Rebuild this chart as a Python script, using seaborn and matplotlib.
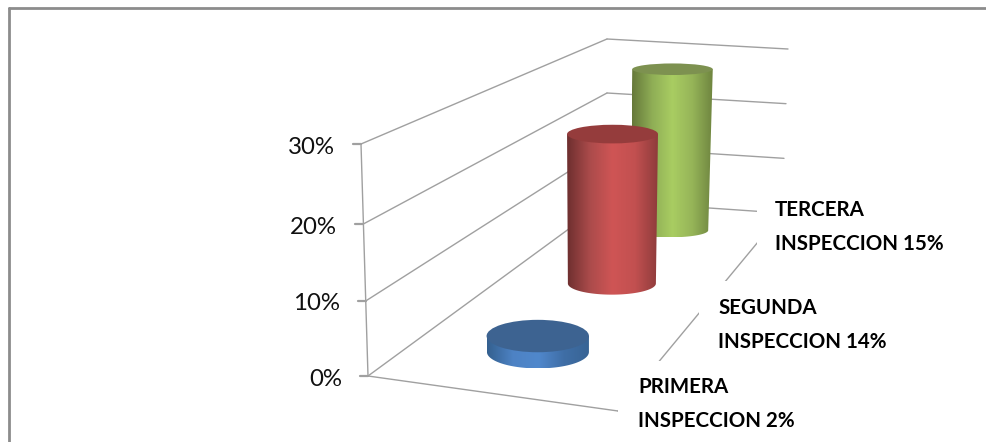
import numpy as np
import matplotlib
matplotlib.use("Agg")
import matplotlib.pyplot as plt
from matplotlib.patches import Polygon, Ellipse, Rectangle
import seaborn as sns

# ---- data ----
series_names = ["PRIMERA\nINSPECCION 2%", "SEGUNDA\nINSPECCION 14%", "TERCERA\nINSPECCION 15%"]
plotted_values = [2.2, 23.5, 28.3]      # heights as drawn, in % on the value axis
tick_values = [0, 10, 20, 30]
tick_labels = ["0%", "10%", "20%", "30%"]
depths = [0.223, 0.59, 0.875]           # series position along the depth axis
side_colors = [["#34608f", "#4d82c4", "#5088cc", "#3f6ea6", "#386494"],
               ["#6e2f2f", "#ab4b4b", "#cf5555", "#c25050", "#8f3c3c"],
               ["#66793a", "#8fae56", "#a9cd62", "#95b458", "#6f8540"]]
top_colors = ["#3d6391", "#953c3c", "#7d9150"]

# ---- layout: projection of the 3-D box onto the page, in pixels ----
W, H = 987, 442
FRONT_Y = [376., 301., 224., 144.]      # slight perspective on the front value axis
FL0, FL30 = np.array([368., 376.]), np.array([361., 144.])
BL0, BL30 = np.array([607., 201.]), np.array([607., 39.])
BR0, BR30 = np.array([782., 213.]), np.array([788., 49.])
FR0 = np.array([618., 411.])


def front_axis(v):
    return np.array([FL0[0] + (FL30[0] - FL0[0]) * v / 30, np.interp(v, tick_values, FRONT_Y)])


def wall_back(v):
    return BL0 + (BL30 - BL0) * v / 30, BR0 + (BR30 - BR0) * v / 30


def base_center(d):
    front, back = (FL0 + FR0) / 2, (BL0 + BR0) / 2
    return front + (back - front) * d


def px_per_pct(d):
    return (1 - d) * (FL0[1] - FL30[1]) / 30 + d * (BL0[1] - BL30[1]) / 30


sns.set_theme(style="white")
plt.rcParams["font.family"] = ["Lato", "DejaVu Sans"]
fig = plt.figure(figsize=(W / 100, H / 100), dpi=100)
ax = fig.add_axes([0, 0, 1, 1])
ax.set_axis_off()

GRID = "#a0a0a0"


def seg(p, q, **kw):
    sns.lineplot(x=[p[0], q[0]], y=[p[1], q[1]], ax=ax, color=kw.pop("color", GRID),
                 lw=kw.pop("lw", 1.0), sort=False, estimator=None, errorbar=None, legend=False, **kw)


# gridlines on left and back walls, value axis and ticks
for v in tick_values:
    p = front_axis(v)
    a, b = wall_back(v)
    seg(p, a, zorder=1)
    seg(a, b, zorder=1)
    seg(p - np.array([8, 0]), p, zorder=1, lw=1.6)
seg(front_axis(0), front_axis(30), zorder=1)
seg(FL0, FR0, zorder=1)
seg(FR0, BR0, zorder=1)

# white label boxes hide the floor edge, as in the original
for x0, y0, x1, y1 in [(618, 361, 830, 440), (699, 281, 900, 361), (757, 190, 960, 281)]:
    ax.add_patch(Rectangle((x0, y0), x1 - x0, y1 - y0, fc="white", ec="none", zorder=2))


def cylinder(d, value, cols, top, z):
    c = base_center(d)
    h = value * px_per_pct(d)
    rx_b = 44 + (0.59 - d) * 18 if d > 0.3 else 51
    ry_b = 16.5 - (d - 0.223) * 14.5
    rx_t = rx_b * (1 + h / 4500)
    ry_t = ry_b * (1 - h / 900)
    cx_t, cy_t = c[0] + value * (d - 0.5) * 0.3, c[1] - h
    t = np.linspace(0, np.pi, 80)
    lower = np.c_[c[0] + rx_b * np.cos(t), c[1] + ry_b * np.sin(t)]
    poly = np.vstack([[[cx_t + rx_t, cy_t]], lower, [[cx_t - rx_t, cy_t]]])
    clip = Polygon(poly, closed=True, transform=ax.transData, fc="none", ec="none")
    ax.add_patch(clip)
    ramp = np.array(sns.blend_palette(cols, 200))[None, :, :]
    im = ax.imshow(ramp, extent=(cx_t - rx_t, cx_t + rx_t, c[1] + ry_b, cy_t - 1),
                   aspect="auto", zorder=z, interpolation="bilinear")
    im.set_clip_path(clip)
    ax.add_patch(Ellipse((cx_t, cy_t), 2 * rx_t, 2 * ry_t, fc=top, ec="none", zorder=z + 0.1))


order = np.argsort(depths)[::-1]
for i, idx in enumerate(order):
    cylinder(depths[idx], plotted_values[idx], side_colors[idx], top_colors[idx], 3 + i)

# value tick labels
for v, lab in zip(tick_values, tick_labels):
    p = front_axis(v)
    ax.text(p[0] - 26, p[1] + 3, lab, ha="right", va="center", fontsize=17.3, color="#101010", zorder=8)

# series labels
label_xy = [(638, 387), (718, 308), (775, 210)]
for (x, y), name in zip(label_xy, series_names):
    l1, l2 = name.split("\n")
    ax.text(x, y, l1, ha="left", va="center", fontsize=14.8, fontweight="bold", color="black", zorder=8)
    ax.text(x, y + 34, l2, ha="left", va="center", fontsize=14.8, fontweight="bold", color="black", zorder=8)

# outer frame (top and left only reach the picture)
FRAME = "#8c8c8c"
seg((9, 8), (W, 8), color=FRAME, lw=2.0, zorder=9)
seg((9, 8), (9, H), color=FRAME, lw=2.0, zorder=9)

ax.set_xlim(0, W)
ax.set_ylim(H, 0)
fig.savefig("out.png", dpi=100, facecolor="white")
